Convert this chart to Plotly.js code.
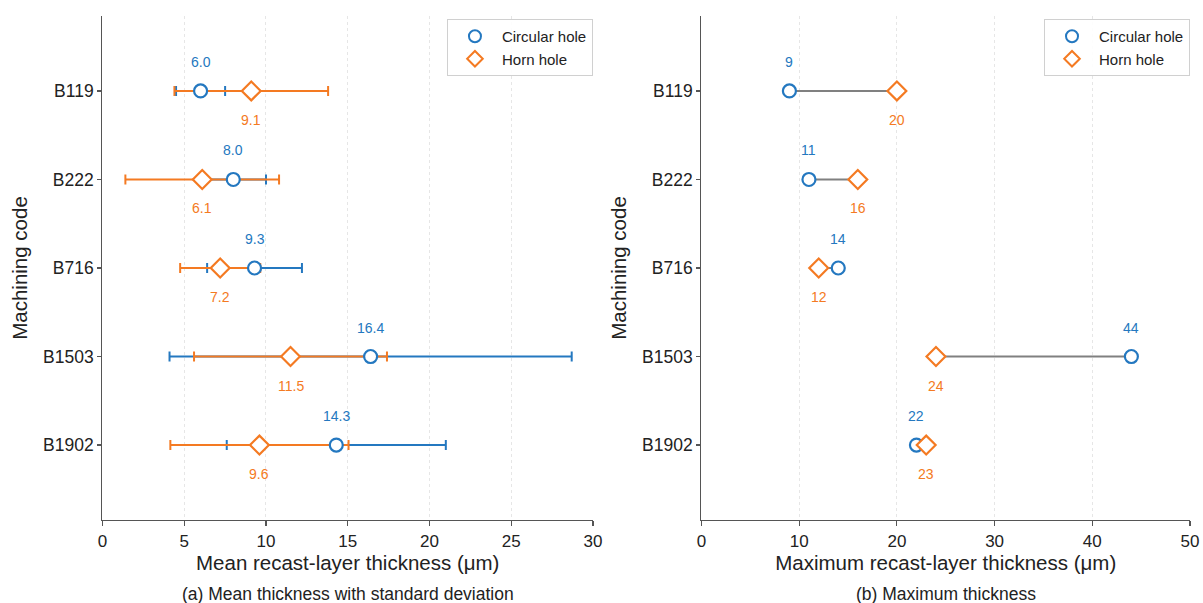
<!DOCTYPE html>
<html>
<head>
<meta charset="utf-8">
<script src="https://cdn.plot.ly/plotly-3.0.1.min.js"></script>
<style>html,body{margin:0;padding:0;background:#fff;}#chart{width:1203px;height:603px;}</style>
</head>
<body>
<div id="chart"></div>
<script>
// ---- data ----
const codes = ["B119", "B222", "B716", "B1503", "B1902"];
const circMean = [6.0, 8.0, 9.3, 16.4, 14.3];
const circStd  = [1.5, 2.0, 2.9, 12.3, 6.7];
const hornMean = [9.1, 6.1, 7.2, 11.5, 9.6];
const hornStd  = [4.7, 4.7, 2.45, 5.9, 5.45];
const circMax  = [9, 11, 14, 44, 22];
const hornMax  = [20, 16, 12, 24, 23];

const BLUE = '#2478c0';
const ORANGE = '#f47a22';
const FONT = 'Liberation Sans, Arial, sans-serif';
const idx = codes.map((_, i) => i);

const traces = [];
// error bars (drawn first, under all markers)
traces.push({x: circMean, y: idx, xaxis: 'x', yaxis: 'y', type: 'scatter', mode: 'markers',
  marker: {size: 0.1, color: BLUE, opacity: 0}, showlegend: false, hoverinfo: 'skip',
  error_x: {type: 'data', array: circStd, visible: true, color: BLUE, thickness: 2, width: 5}});
traces.push({x: hornMean, y: idx, xaxis: 'x', yaxis: 'y', type: 'scatter', mode: 'markers',
  marker: {size: 0.1, color: ORANGE, opacity: 0}, showlegend: false, hoverinfo: 'skip',
  error_x: {type: 'data', array: hornStd, visible: true, color: ORANGE, thickness: 2, width: 5}});
// markers (left)
traces.push({x: circMean, y: idx, xaxis: 'x', yaxis: 'y', type: 'scatter', mode: 'markers', name: 'Circular hole',
  legend: 'legend',
  marker: {symbol: 'circle', size: 13, color: '#fff', line: {color: BLUE, width: 2.2}}});
traces.push({x: hornMean, y: idx, xaxis: 'x', yaxis: 'y', type: 'scatter', mode: 'markers', name: 'Horn hole',
  legend: 'legend',
  marker: {symbol: 'diamond', size: 14.5, color: '#fff', line: {color: ORANGE, width: 2.2}}});

// right panel connecting lines
const lx = [], ly = [];
idx.forEach(i => { lx.push(circMax[i], hornMax[i], null); ly.push(i, i, null); });
traces.push({x: lx, y: ly, xaxis: 'x2', yaxis: 'y2', type: 'scatter', mode: 'lines',
  line: {color: '#808080', width: 2}, showlegend: false, hoverinfo: 'skip'});
traces.push({x: circMax, y: idx, xaxis: 'x2', yaxis: 'y2', type: 'scatter', mode: 'markers', name: 'Circular hole',
  legend: 'legend2',
  marker: {symbol: 'circle', size: 13, color: '#fff', line: {color: BLUE, width: 2.2}}});
traces.push({x: hornMax, y: idx, xaxis: 'x2', yaxis: 'y2', type: 'scatter', mode: 'markers', name: 'Horn hole',
  legend: 'legend2',
  marker: {symbol: 'diamond', size: 14.5, color: '#fff', line: {color: ORANGE, width: 2.2}}});

const annotations = [];
function lab(xref, yref, x, y, text, color, shift) {
  annotations.push({xref: xref, yref: yref, x: x, y: y, text: text, showarrow: false, yshift: shift,
    font: {family: FONT, size: 14, color: color}});
}
idx.forEach(i => {
  lab('x', 'y', circMean[i], i, circMean[i].toFixed(1), BLUE, 29);
  lab('x', 'y', hornMean[i], i, hornMean[i].toFixed(1), ORANGE, -29);
  lab('x2', 'y2', circMax[i], i, String(circMax[i]), BLUE, 29);
  lab('x2', 'y2', hornMax[i], i, String(hornMax[i]), ORANGE, -29);
});
annotations.push({xref: 'paper', yref: 'paper', x: (0.0852 + 0.4929) / 2, xanchor: 'center', y: 1 - 594 / 603, yanchor: 'middle',
  text: '(a) Mean thickness with standard deviation', showarrow: false, font: {family: FONT, size: 17.5, color: '#222'}});
annotations.push({xref: 'paper', yref: 'paper', x: (0.5831 + 0.9892) / 2, xanchor: 'center', y: 1 - 594 / 603, yanchor: 'middle',
  text: '(b) Maximum thickness', showarrow: false, font: {family: FONT, size: 17.5, color: '#222'}});

const AX = '#555';
function xax(domain, range, dtick, title) {
  return {domain: domain, range: range, dtick: dtick, tick0: 0, showline: true, linecolor: AX, linewidth: 1.3,
    ticks: 'outside', ticklen: 5, tickcolor: AX, tickwidth: 1.2, zeroline: false,
    showgrid: true, gridcolor: '#e6e6e6', griddash: 'dot', gridwidth: 1,
    tickfont: {family: FONT, size: 17, color: '#222'},
    title: {text: title, font: {family: FONT, size: 20.5, color: '#222'}, standoff: 5},
    anchor: null, fixedrange: true};
}
function yax(anchor) {
  return {domain: [1 - 520 / 603, 1 - 16 / 603], range: [4.847, -0.847], tickmode: 'array', tickvals: idx, ticktext: codes,
    showline: true, linecolor: AX, linewidth: 1.3, ticks: 'outside', ticklen: 4, tickcolor: AX, tickwidth: 1.2,
    showgrid: false, zeroline: false, anchor: anchor,
    tickfont: {family: FONT, size: 17.5, color: '#222'},
    title: {text: 'Machining code', font: {family: FONT, size: 20.5, color: '#222'}, standoff: 10}};
}
const xa1 = xax([0.0852, 0.4929], [0, 30], 5, 'Mean recast-layer thickness (μm)'); xa1.anchor = 'y';
const xa2 = xax([0.5831, 0.9892], [0, 50], 10, 'Maximum recast-layer thickness (μm)'); xa2.anchor = 'y2';

const legendStyle = (x) => ({x: x, xref: 'paper', xanchor: 'right', y: 1 - 19 / 603, yref: 'paper', yanchor: 'top',
  bgcolor: 'rgba(255,255,255,0.9)', bordercolor: '#d0d0d0', borderwidth: 1, itemsizing: 'constant',
  font: {family: FONT, size: 15, color: '#222'}, tracegroupgap: 0, itemwidth: 44});

const layout = {
  width: 1203, height: 603,
  margin: {l: 0, r: 0, t: 0, b: 0},
  paper_bgcolor: '#fff', plot_bgcolor: '#fff',
  xaxis: xa1, yaxis: yax('x'), xaxis2: xa2, yaxis2: yax('x2'),
  legend: legendStyle(0.4929), legend2: legendStyle(0.9892),
  annotations: annotations,
  font: {family: FONT},
  hovermode: false
};
Plotly.newPlot('chart', traces, layout, {displayModeBar: false, staticPlot: true});
</script>
</body>
</html>
